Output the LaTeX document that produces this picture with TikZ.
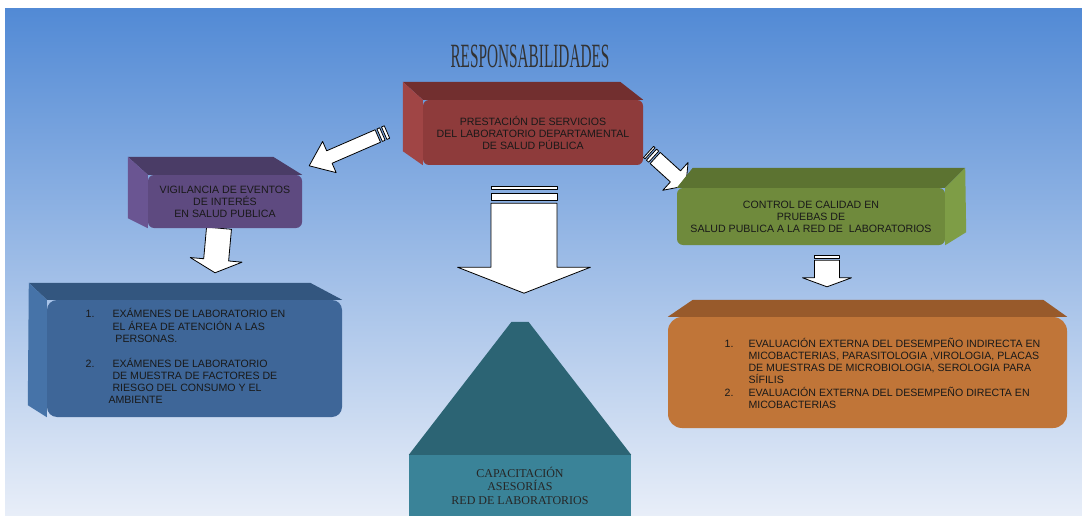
\documentclass[tikz,border=0pt]{standalone}
\usepackage{graphicx}
\usepackage{fontspec}
\setmainfont{Liberation Serif}
\setsansfont{Liberation Sans}
\usetikzlibrary{calc,positioning}

\definecolor{bgtop}{HTML}{528AD5}
\definecolor{bgmid}{HTML}{A0BDE6}
\definecolor{bgbot}{HTML}{E8EEF8}
\definecolor{servfront}{HTML}{8E3B3B}
\definecolor{servtop}{HTML}{722F2F}
\definecolor{servside}{HTML}{A04545}
\definecolor{vigfront}{HTML}{5E4A80}
\definecolor{vigtop}{HTML}{4A3C66}
\definecolor{vigside}{HTML}{6A5592}
\definecolor{ctrlfront}{HTML}{6F8A3C}
\definecolor{ctrltop}{HTML}{5C7331}
\definecolor{ctrlside}{HTML}{7E9D46}
\definecolor{labfront}{HTML}{3E6698}
\definecolor{labtop}{HTML}{33567F}
\definecolor{labside}{HTML}{4673A8}
\definecolor{evalfront}{HTML}{C07538}
\definecolor{evaltop}{HTML}{985A2B}
\definecolor{capfront}{HTML}{3A8398}
\definecolor{captop}{HTML}{2C6474}

\pgfdeclarelayer{bg}
\pgfdeclarelayer{arr}
\pgfsetlayers{bg,arr,main}

% white block arrow: from, to, half shaft, half head, head length
\newcommand{\blockarr}[5]{%
  \path ($(#2)!#5!(#1)$) coordinate (neck);
  \filldraw[blockarrow] ($(#1)!#3!90:(#2)$) -- ($(neck)!#3!90:(#2)$)
    -- ($(neck)!#4!90:(#2)$) -- (#2) -- ($(neck)!#4!-90:(#2)$)
    -- ($(neck)!#3!-90:(#2)$) -- ($(#1)!#3!-90:(#2)$) -- cycle;}
% bar behind the tail: from, to, half shaft, start, end
\newcommand{\arrstripe}[5]{%
  \path ($(#1)!-#4!(#2)$) coordinate (stA) ($(#1)!-#5!(#2)$) coordinate (stB);
  \filldraw[blockarrow] ($(stA)!#3!90:(#2)$) -- ($(stB)!#3!90:(#2)$)
    -- ($(stB)!#3!-90:(#2)$) -- ($(stA)!#3!-90:(#2)$) -- cycle;}

\begin{document}
\begin{tikzpicture}[x=1pt,y=-1pt,
  every node/.style={font=\sffamily\fontsize{10.6}{12}\selectfont, text=black!90},
  facebox/.style={rounded corners=#1, inner sep=0pt, align=center},
  facebox/.default=6pt,
  blockarrow/.style={fill=white, draw=black, line width=0.8pt, line join=round},
]
\useasboundingbox (0,0) rectangle (1082,516);
\begin{pgfonlayer}{bg}
  \shade[top color=bgtop, middle color=bgmid, bottom color=bgbot] (5,9) rectangle (1082,516);
\end{pgfonlayer}

\node[anchor=base, font=\rmfamily\fontsize{34}{36}\selectfont, text=black!80] (title) at (530,68)
  {\scalebox{0.45}[1]{RESPONSABILIDADES}};

% boxes
\node[facebox, fill=servfront, minimum width=220pt, minimum height=65pt] (serv) at (533,132.5)
  {PRESTACIÓN DE SERVICIOS\\DEL LABORATORIO DEPARTAMENTAL\\DE SALUD PÚBLICA};
\fill[servtop] (serv.north west) -- ++(-20,-18) -- ($(serv.north east)+(-23,-18)$) -- (serv.north east) -- cycle;
\fill[servside] (serv.north west) -- ++(-20,-18) -- ($(serv.south west)+(-20,-14)$) -- (serv.south west) -- cycle;

\node[facebox, fill=vigfront, minimum width=154pt, minimum height=53pt] (vig) at (225,201.5)
  {VIGILANCIA DE EVENTOS\\DE INTERÉS\\EN SALUD PUBLICA};
\fill[vigtop] (vig.north west) -- ++(-20,-18) -- ($(vig.north east)+(-29,-18)$) -- (vig.north east) -- cycle;
\fill[vigside] (vig.north west) -- ++(-20,-18) -- ($(vig.south west)+(-20,-10)$) -- (vig.south west) -- cycle;

\node[facebox, fill=ctrlfront, minimum width=268pt, minimum height=57pt] (ctrl) at (811,216.5)
  {CONTROL DE CALIDAD EN\\PRUEBAS DE\\SALUD PUBLICA A LA RED DE\ \ LABORATORIOS};
\fill[ctrltop] (ctrl.north west) -- ++(16,-20) -- ($(ctrl.north east)+(20,-20)$) -- (ctrl.north east) -- cycle;
\fill[ctrlside] (ctrl.north east) -- ++(20,-20) -- ($(ctrl.south east)+(21,-13)$) -- (ctrl.south east) -- cycle;

\node[facebox=10pt, fill=labfront, minimum width=295pt, minimum height=117pt] (lab) at (194.5,358.5) {};
\fill[labtop] (lab.north west) -- ++(-18,-17) -- ($(lab.north east)+(-32,-17)$) -- (lab.north east) -- cycle;
\fill[labside] (lab.north west) -- ++(-18,-17) -- ($(lab.south west)+(-19,-12)$) -- (lab.south west) -- cycle;
\node (labtxt) at ($(lab.center)+(-9,-1)$) {\begin{tabular}{@{}l@{\hspace{18pt}}l@{}}
  1. & EXÁMENES DE LABORATORIO EN\\
     & EL ÁREA DE ATENCIÓN A LAS\\
     & \ PERSONAS.\\[12pt]
  2. & EXÁMENES DE LABORATORIO\\
     & DE MUESTRA DE FACTORES DE\\
     & RIESGO DEL CONSUMO Y EL\\
     & \hspace{-4pt}AMBIENTE
  \end{tabular}};

\node[facebox=14pt, fill=evalfront, minimum width=399pt, minimum height=111pt] (eval) at (867.5,372.5) {};
\fill[evaltop] (eval.north west) -- ++(25,-17) -- ($(eval.north east)+(-24,-17)$) -- (eval.north east) -- cycle;
\node (evaltxt) at ($(eval.center)+(15,2.6)$) {\begin{tabular}{@{}l@{\hspace{15pt}}l@{}}
  1. & EVALUACIÓN EXTERNA DEL DESEMPEÑO INDIRECTA EN\\
     & MICOBACTERIAS, PARASITOLOGIA ,VIROLOGIA, PLACAS\\
     & DE MUESTRAS DE MICROBIOLOGIA, SEROLOGIA PARA\\
     & SÍFILIS\\
  2. & EVALUACIÓN EXTERNA DEL DESEMPEÑO DIRECTA EN\\
     & MICOBACTERIAS
  \end{tabular}};

\node[fill=capfront, minimum width=222pt, minimum height=61pt, inner sep=0pt, align=center,
  font=\rmfamily\fontsize{12}{13.5}\selectfont, text=black!85] (capac) at (520,485.5)
  {CAPACITACIÓN\\ASESORÍAS\\RED DE LABORATORIOS};
\fill[captop] (capac.north west) -- ($(capac.north)+(-8.5,-133)$) -- ($(capac.north)+(8.5,-133)$) -- (capac.north east) -- cycle;

% arrows
\coordinate (a1s) at ($(serv.west)+(-45,3.5)$);
\coordinate (a1e) at ($(vig.north east)+(7,-9)$);
\coordinate (a2s) at ($(serv.east)+(12,25.5)$);
\coordinate (a2e) at ($(ctrl.north west)+(9,-2)$);
\coordinate (a3s) at ($(vig.south)+(-6,0)$);
\coordinate (a3e) at ($(lab.north)+(20.5,-27)$);
\coordinate (a4s) at ($(ctrl.south)+(16,15)$);
\coordinate (a4e) at ($(eval.north)+(-40.5,-30)$);
\coordinate (a5s) at ($(serv.south)+(-9,38)$);
\coordinate (a5e) at ($(serv.south)+(-9,128)$);
\begin{pgfonlayer}{arr}
  \blockarr{a1s}{a1e}{6.8pt}{17pt}{22pt}
  \arrstripe{a1s}{a1e}{6.8pt}{2pt}{5pt}
  \arrstripe{a1s}{a1e}{6.8pt}{7pt}{10pt}
  \blockarr{a2s}{a2e}{7.5pt}{18.8pt}{14pt}
  \arrstripe{a2s}{a2e}{7.5pt}{2pt}{5pt}
  \arrstripe{a2s}{a2e}{7.5pt}{7pt}{9pt}
  \blockarr{a3s}{a3e}{12.5pt}{26pt}{13pt}
  \blockarr{a4s}{a4e}{12.5pt}{24.5pt}{9pt}
  \arrstripe{a4s}{a4e}{12.5pt}{1.5pt}{5pt}
  \blockarr{a5s}{a5e}{33pt}{66.5pt}{26pt}
  \arrstripe{a5s}{a5e}{33pt}{3pt}{10pt}
  \arrstripe{a5s}{a5e}{33pt}{14pt}{17pt}
\end{pgfonlayer}
\end{tikzpicture}
\end{document}
